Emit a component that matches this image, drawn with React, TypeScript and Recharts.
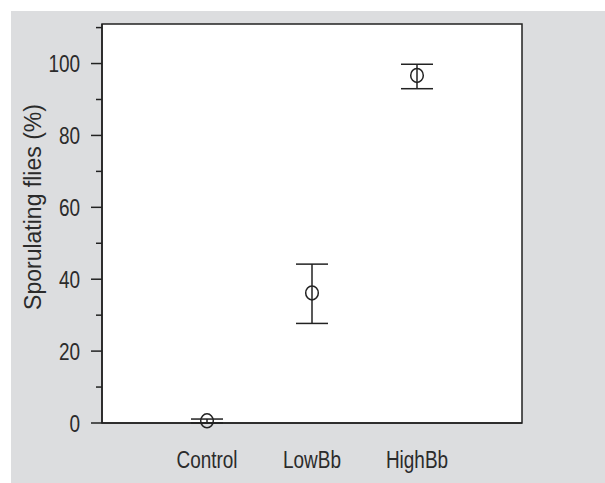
import React from 'react'
import {
  ScatterChart, Scatter, XAxis, YAxis, ErrorBar, ReferenceArea,
} from 'recharts'

const categories = ['Control', 'LowBb', 'HighBb']
const means = [0.6, 36.2, 96.7]
const lowerBounds = [0, 27.7, 93.0]
const upperBounds = [1.1, 44.2, 99.8]
const yTicks = [0, 10, 20, 30, 40, 50, 60, 70, 80, 90, 100, 110]
const yMax = 111

const INK = '#2b2b2b'
const LINE = '#222'
const FONT = "'Liberation Sans', Arial, sans-serif"

const rows = categories.map((name, i) => ({
  pos: i + 1,
  name,
  value: means[i],
  err: [means[i] - lowerBounds[i], upperBounds[i] - means[i]],
}))

function YTick(props: any) {
  const { x, y, payload } = props
  const major = payload.value % 20 === 0
  return (
    <g>
      <line x1={x - (major ? 11 : 6)} x2={x} y1={y} y2={y} stroke={LINE} strokeWidth={1.5} />
      {major && (
        <text
          transform={`translate(${x - 22},${y}) scale(0.79,1)`}
          textAnchor="end"
          dy="0.36em"
          fontSize={24}
          fontFamily={FONT}
          fill={INK}
        >
          {payload.value}
        </text>
      )}
    </g>
  )
}

function XTick(props: any) {
  const { x, y, payload } = props
  const label = categories[payload.value - 1] ?? ''
  return (
    <text
      transform={`translate(${x},${y + 45}) scale(0.79,1)`}
      textAnchor="middle"
      fontSize={24}
      fontFamily={FONT}
      fill={INK}
    >
      {label}
    </text>
  )
}

function Ring(props: any) {
  const { cx, cy } = props
  return <ellipse cx={cx} cy={cy} rx={6.3} ry={7} fill="none" stroke={LINE} strokeWidth={1.5} />
}

export default function App() {
  return (
    <div style={{ position: 'absolute', left: 0, top: 0, width: 605, height: 483, background: '#fff' }}>
      <div style={{ position: 'absolute', left: 11, top: 11, width: 594, height: 472, background: '#dcdddf' }} />
      <div style={{ position: 'absolute', left: 0, top: 0 }}>
        <ScatterChart width={605} height={483} margin={{ top: 24, right: 83, left: 0, bottom: 20 }}>
          <ReferenceArea x1={0} x2={4} y1={0} y2={yMax} fill="#fff" fillOpacity={1} stroke={LINE} strokeWidth={1.5} />
          <XAxis
            type="number"
            dataKey="pos"
            domain={[0, 4]}
            ticks={[1, 2, 3]}
            height={40}
            tickSize={0}
            tickMargin={0}
            tickLine={false}
            axisLine={{ stroke: LINE, strokeWidth: 1.5 }}
            tick={<XTick />}
          />
          <YAxis
            type="number"
            dataKey="value"
            domain={[0, yMax]}
            ticks={yTicks}
            width={102}
            tickSize={0}
            tickMargin={0}
            tickLine={false}
            axisLine={{ stroke: LINE, strokeWidth: 1.5 }}
            tick={<YTick />}
            interval={0}
          />
          <Scatter data={rows} shape={<Ring />} isAnimationActive={false}>
            <ErrorBar dataKey="err" direction="y" width={16} stroke={LINE} strokeWidth={1.5} />
          </Scatter>
          <text
            transform="translate(33,207) rotate(-90)"
            textAnchor="middle"
            dy="0.36em"
            fontSize={23}
            fontFamily={FONT}
            fill={INK}
          >
            Sporulating flies (%)
          </text>
        </ScatterChart>
      </div>
    </div>
  )
}
